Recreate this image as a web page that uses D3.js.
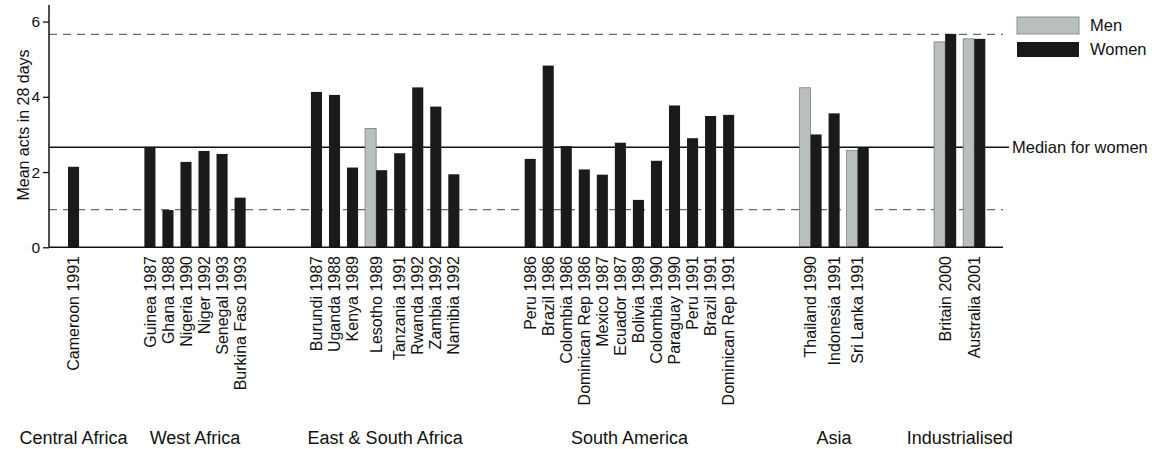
<!DOCTYPE html>
<html>
<head>
<meta charset="utf-8">
<script src="https://cdn.jsdelivr.net/npm/d3@7"></script>
<style>
  body { margin: 0; background: #fff; }
  text { font-family: "Liberation Sans", Arial, sans-serif; fill: #111; }
</style>
</head>
<body>
<div class="chart"></div>
<script>
const regions = ['Central Africa', 'West Africa', 'East & South Africa', 'South America', 'Asia', 'Industrialised']

const countries = ['Cameroon 1991',
  'Guinea 1987', 'Ghana 1988', 'Nigeria 1990', 'Niger 1992', 'Senegal 1993', 'Burkina Faso 1993',
  'Burundi 1987', 'Uganda 1988', 'Kenya 1989', 'Lesotho 1989', 'Tanzania 1991', 'Rwanda 1992', 'Zambia 1992', 'Namibia 1992',
  'Peru 1986', 'Brazil 1986', 'Colombia 1986', 'Dominican Rep 1986', 'Mexico 1987', 'Ecuador 1987', 'Bolivia 1989',
  'Colombia 1990', 'Paraguay 1990', 'Peru 1991', 'Brazil 1991', 'Dominican Rep 1991',
  'Thailand 1990', 'Indonesia 1991', 'Sri Lanka 1991',
  'Britain 2000', 'Australia 2001']

const regionOf = [0,
  1, 1, 1, 1, 1, 1,
  2, 2, 2, 2, 2, 2, 2, 2,
  3, 3, 3, 3, 3, 3, 3, 3, 3, 3, 3, 3,
  4, 4, 4,
  5, 5]

const women = [2.14,
  2.67, 0.99, 2.27, 2.56, 2.48, 1.32,
  4.13, 4.05, 2.12, 2.05, 2.50, 4.25, 3.74, 1.94,
  2.35, 4.83, 2.69, 2.07, 1.93, 2.78, 1.26, 2.30, 3.77, 2.90, 3.49, 3.52,
  3.00, 3.56, 2.65,
  5.67, 5.54]

const men = [null,
  null, null, null, null, null, null,
  null, null, null, 3.16, null, null, null, null,
  null, null, null, null, null, null, null, null, null, null, null, null,
  4.24, null, 2.57,
  5.46, 5.54]

const medianWomen = 2.66
const dashedLines = [1.0, 5.66]
const yTicks = [0, 2, 4, 6]

const width = 1152
const height = 449

// layout in "bar units": bar = 1, gap between countries, bigger gap between regions
const gap = 0.63
const regionGap = 5.9
let u = 0
const start = []
countries.forEach((c, i) => {
  if (i > 0) u += regionOf[i] !== regionOf[i-1] ? regionGap : gap
  start.push(u)
  u += men[i] == null ? 1 : 2
})
const total = u

const bars = []
countries.forEach((c, i) => {
  if (men[i] != null) {
    bars.push({sex: 'men', pos: start[i], value: men[i]})
    bars.push({sex: 'women', pos: start[i] + 1, value: women[i]})
  } else {
    bars.push({sex: 'women', pos: start[i], value: women[i]})
  }
})
const nb = i => men[i] == null ? 1 : 2

const x = d3.scaleLinear().domain([0, total]).range([68, 985.3])
const y = d3.scaleLinear().domain([0, 6.44]).range([247.3, 5])
const bw = x(1) - x(0)

const svg = d3.select('.chart')
  .append('svg')
  .attr('width', width)
  .attr('height', height)

svg.append('rect').attr('width', width).attr('height', height).attr('fill', '#fff')

// reference lines
svg.selectAll('.dash')
  .data(dashedLines)
  .enter()
  .append('line')
  .attr('x1', 49)
  .attr('x2', 1003)
  .attr('y1', d => y(d))
  .attr('y2', d => y(d))
  .attr('stroke', '#6a6a6a')
  .attr('stroke-width', 1.3)
  .attr('stroke-dasharray', '8,6')

svg.append('line')
  .attr('x1', 49)
  .attr('x2', 1009)
  .attr('y1', y(medianWomen))
  .attr('y2', y(medianWomen))
  .attr('stroke', '#111')
  .attr('stroke-width', 1.6)

svg.append('text')
  .attr('x', 1012)
  .attr('y', y(medianWomen))
  .attr('dy', '0.35em')
  .attr('font-size', 16.5)
  .text('Median for women')

// bars
svg.selectAll('.bar')
  .data(bars)
  .enter()
  .append('rect')
  .attr('x', d => x(d.pos))
  .attr('width', bw)
  .attr('y', d => y(d.value))
  .attr('height', d => y(0) - y(d.value))
  .attr('fill', d => d.sex == 'men' ? '#b8bfbc' : '#1a1a1a')
  .attr('stroke', d => d.sex == 'men' ? '#6f7472' : 'none')
  .attr('stroke-width', 0.7)

// axes
const yAxis = svg.append('g')
  .attr('transform', 'translate(49,0)')
  .call(d3.axisLeft(y).tickValues(yTicks).tickSize(6).tickPadding(3).tickFormat(d3.format('d')))
yAxis.select('.domain').attr('d', 'M0,' + y(0) + 'V' + y(6.44)).attr('stroke', '#111').attr('stroke-width', 1.5)
yAxis.selectAll('.tick line').attr('stroke', '#111').attr('stroke-width', 1.3)
yAxis.selectAll('.tick text').attr('font-size', 15.5).attr('fill', '#111')
  .style('font-family', '"Liberation Sans", Arial, sans-serif')

svg.append('line')
  .attr('x1', 49)
  .attr('x2', 1003)
  .attr('y1', y(0))
  .attr('y2', y(0))
  .attr('stroke', '#111')
  .attr('stroke-width', 1.5)

svg.append('text')
  .attr('transform', 'translate(29,' + 125 + ') rotate(-90)')
  .attr('text-anchor', 'middle')
  .attr('font-size', 16)
  .text('Mean acts in 28 days')

// country labels
svg.selectAll('.clab')
  .data(countries)
  .enter()
  .append('text')
  .attr('transform', (d, i) => 'translate(' + x(start[i] + nb(i) / 2) + ',256) rotate(-90)')
  .attr('text-anchor', 'end')
  .attr('dy', '0.35em')
  .attr('font-size', 16)
  .text(d => d)

// region labels
svg.selectAll('.rlab')
  .data(regions)
  .enter()
  .append('text')
  .attr('x', (d, r) => {
    const idx = d3.range(countries.length).filter(i => regionOf[i] == r)
    const first = idx[0], last = idx[idx.length - 1]
    return (x(start[first]) + x(start[last] + nb(last))) / 2
  })
  .attr('y', 444)
  .attr('text-anchor', 'middle')
  .attr('font-size', 18)
  .text(d => d)

// legend
const legend = [{label: 'Men', fill: '#b8bfbc', stroke: '#8a8f8d', y: 17, h: 17},
  {label: 'Women', fill: '#1a1a1a', stroke: 'none', y: 42, h: 15}]
svg.selectAll('.leg')
  .data(legend)
  .enter()
  .append('rect')
  .attr('x', 1017)
  .attr('y', d => d.y)
  .attr('width', 62)
  .attr('height', d => d.h)
  .attr('fill', d => d.fill)
  .attr('stroke', d => d.stroke)
svg.selectAll('.legt')
  .data(legend)
  .enter()
  .append('text')
  .attr('x', 1090)
  .attr('y', d => d.y + d.h / 2)
  .attr('dy', '0.35em')
  .attr('font-size', 16.5)
  .text(d => d.label)
</script>
</body>
</html>
